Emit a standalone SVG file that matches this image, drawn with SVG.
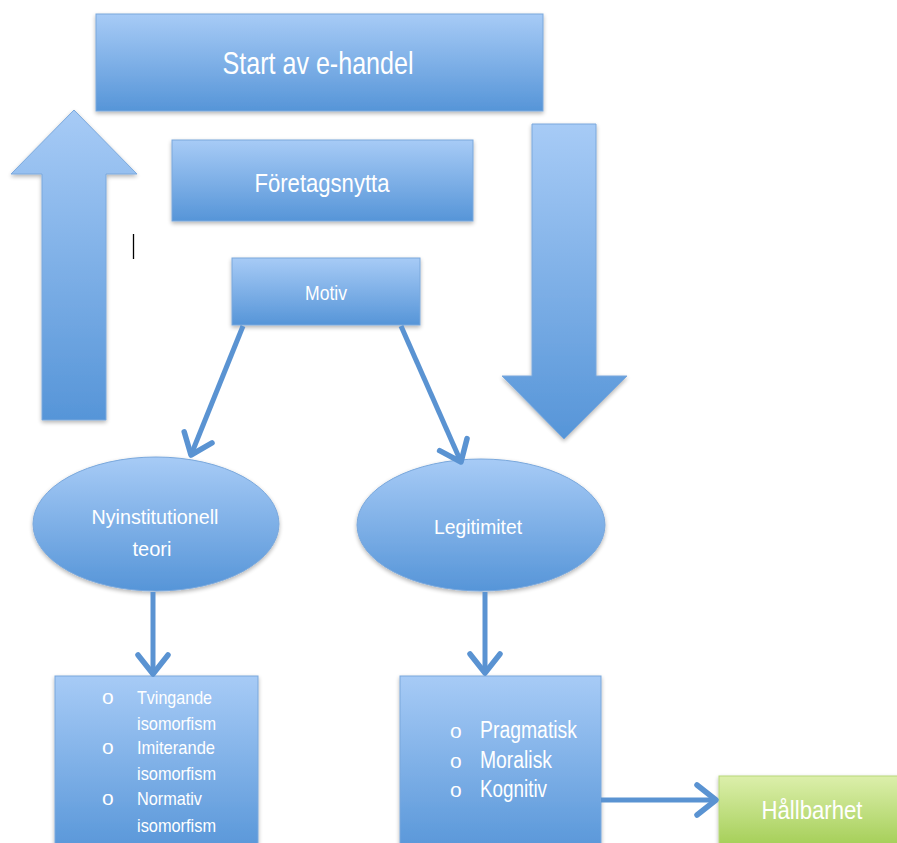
<svg xmlns="http://www.w3.org/2000/svg" width="897" height="843" viewBox="0 0 897 843">
<style>
.lbl{font-family:"Liberation Sans",Arial,sans-serif;fill:#fff;}
.blue{fill:url(#gb);stroke:#7aa8dc;stroke-width:1;filter:url(#sh);}
.green{fill:url(#gg);stroke:#b7d77a;stroke-width:1;filter:url(#sh);}
.conn{stroke:#5a93d2;stroke-width:5;fill:none;marker-end:url(#ah);}
.bul{font-family:"Liberation Sans",Arial,sans-serif;fill:#fff;font-size:21px;}
</style>
<defs>
<linearGradient id="gb" x1="0" y1="0" x2="0" y2="1">
<stop offset="0" stop-color="#a7cbf6"/>
<stop offset="1" stop-color="#5695d8"/>
</linearGradient>
<linearGradient id="gg" x1="0" y1="0" x2="0" y2="1">
<stop offset="0" stop-color="#dcefab"/>
<stop offset="1" stop-color="#9dca4c"/>
</linearGradient>
<filter id="sh" x="-10%" y="-10%" width="120%" height="130%">
<feGaussianBlur in="SourceAlpha" stdDeviation="2"/>
<feOffset dx="0" dy="2" result="b"/>
<feComponentTransfer><feFuncA type="linear" slope="0.3"/></feComponentTransfer>
<feMerge><feMergeNode/><feMergeNode in="SourceGraphic"/></feMerge>
</filter>
<marker id="ah" markerWidth="6" markerHeight="8" refX="4.6" refY="4" orient="auto" markerUnits="strokeWidth">
<path d="M0.8,1 L4.6,4 L0.8,7" fill="none" stroke="#5a93d2" stroke-width="1.1" stroke-linecap="round" stroke-linejoin="round"/>
</marker>
</defs>
<rect width="897" height="843" fill="#fff"/>

<g id="arrow-up">
<path class="blue" d="M74,110 L137,174 L106,174 L106,420 L42,420 L42,174 L11,174 Z"/>
</g>
<g id="arrow-down">
<path class="blue" d="M532,124 L596,124 L596,376 L627,376 L564,439 L502,376 L532,376 Z"/>
</g>

<g id="start">
<rect class="blue" x="96" y="14" width="447" height="97"/>
<text class="lbl" x="318" y="74" font-size="32" text-anchor="middle" textLength="191" lengthAdjust="spacingAndGlyphs">Start av e-handel</text>
</g>
<g id="foretagsnytta">
<rect class="blue" x="172" y="140" width="301" height="81"/>
<text class="lbl" x="322" y="192" font-size="26" text-anchor="middle" textLength="135" lengthAdjust="spacingAndGlyphs">Företagsnytta</text>
</g>
<line x1="133.5" y1="234" x2="133.5" y2="259" stroke="#000" stroke-width="1.3"/>
<g id="motiv">
<rect class="blue" x="232" y="258" width="188" height="67"/>
<text class="lbl" x="326" y="300" font-size="20" text-anchor="middle" textLength="42" lengthAdjust="spacingAndGlyphs">Motiv</text>
</g>

<g id="nyinst">
<ellipse class="blue" cx="156" cy="524" rx="123" ry="67"/>
<text class="lbl" x="155" y="524" font-size="21" text-anchor="middle" textLength="127" lengthAdjust="spacingAndGlyphs">Nyinstitutionell</text>
<text class="lbl" x="152" y="556" font-size="21" text-anchor="middle" textLength="39" lengthAdjust="spacingAndGlyphs">teori</text>
</g>
<g id="legitimitet">
<ellipse class="blue" cx="481" cy="525" rx="124" ry="66"/>
<text class="lbl" x="478" y="534" font-size="21" text-anchor="middle" textLength="88" lengthAdjust="spacingAndGlyphs">Legitimitet</text>
</g>

<g id="isomorfism">
<rect class="blue" x="55" y="676" width="203" height="180"/>
<g class="lbl" font-size="19">
<text class="bul" x="102" y="704">o</text>
<text x="137" y="704" textLength="75" lengthAdjust="spacingAndGlyphs">Tvingande</text>
<text x="137" y="730" textLength="79" lengthAdjust="spacingAndGlyphs">isomorfism</text>
<text class="bul" x="102" y="754">o</text>
<text x="137" y="754" textLength="78" lengthAdjust="spacingAndGlyphs">Imiterande</text>
<text x="137" y="780" textLength="79" lengthAdjust="spacingAndGlyphs">isomorfism</text>
<text class="bul" x="102" y="805">o</text>
<text x="137" y="805" textLength="65" lengthAdjust="spacingAndGlyphs">Normativ</text>
<text x="137" y="832" textLength="79" lengthAdjust="spacingAndGlyphs">isomorfism</text>
</g>
</g>
<g id="typer">
<rect class="blue" x="400" y="676" width="201" height="180"/>
<g class="lbl" font-size="23">
<text class="bul" x="450" y="738">o</text>
<text x="480" y="738" textLength="97" lengthAdjust="spacingAndGlyphs">Pragmatisk</text>
<text class="bul" x="450" y="768">o</text>
<text x="480" y="768" textLength="72" lengthAdjust="spacingAndGlyphs">Moralisk</text>
<text class="bul" x="450" y="797">o</text>
<text x="480" y="797" textLength="67" lengthAdjust="spacingAndGlyphs">Kognitiv</text>
</g>
</g>
<g id="hallbarhet">
<rect class="green" x="719" y="776" width="190" height="80"/>
<text class="lbl" x="812" y="819" font-size="26" text-anchor="middle" textLength="101" lengthAdjust="spacingAndGlyphs">Hållbarhet</text>
</g>

<g id="connectors">
<line class="conn" x1="243" y1="326" x2="191" y2="455"/>
<line class="conn" x1="401" y1="326" x2="461" y2="462"/>
<line class="conn" x1="153" y1="592" x2="153" y2="674"/>
<line class="conn" x1="485" y1="592" x2="485" y2="673"/>
<line class="conn" x1="601" y1="800" x2="716" y2="800"/>
</g>
</svg>
